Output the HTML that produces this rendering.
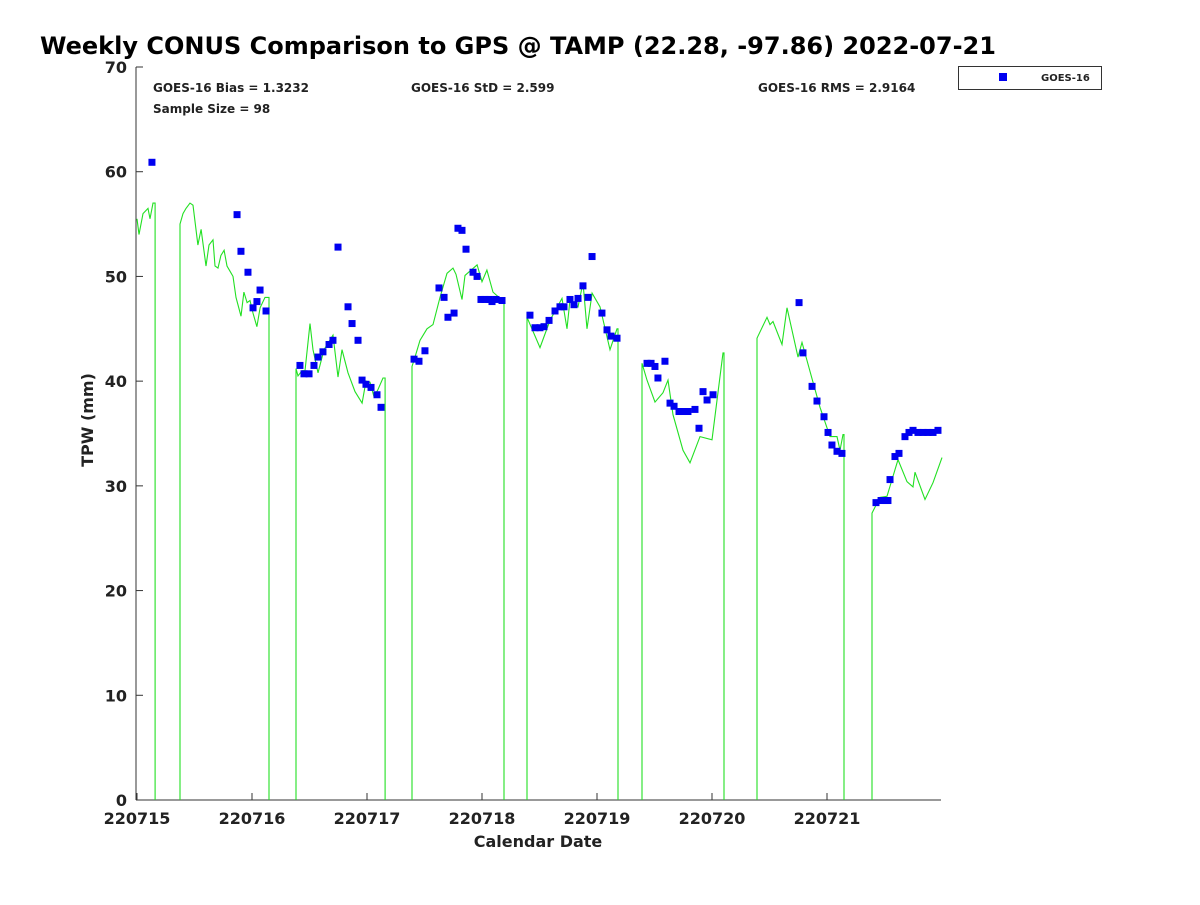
<!DOCTYPE html>
<html><head><meta charset="utf-8"><style>
body{margin:0;background:#fff;}
svg text{font-family:"DejaVu Sans","Liberation Sans",sans-serif;font-weight:bold;fill:#222;}
</style></head><body>
<svg id="chart" width="1200" height="900" xmlns="http://www.w3.org/2000/svg">
<rect width="1200" height="900" fill="#fff"/>
<text x="40" y="54" font-size="24" style="fill:#000">Weekly CONUS Comparison to GPS @ TAMP (22.28, -97.86) 2022-07-21</text>
<g id="axes"></g>
<g id="gpsline"></g>
<g id="points"></g>
<text x="153" y="92" font-size="12">GOES-16 Bias = 1.3232</text>
<text x="411" y="92" font-size="12">GOES-16 StD = 2.599</text>
<text x="758" y="92" font-size="12">GOES-16 RMS = 2.9164</text>
<text x="153" y="113" font-size="12">Sample Size = 98</text>
<text x="538" y="847" font-size="16" text-anchor="middle">Calendar Date</text>
<text transform="translate(93,420) rotate(-90)" font-size="16" text-anchor="middle">TPW (mm)</text>
<g>
<rect x="958.5" y="66.5" width="143" height="23" fill="#fff" stroke="#333" stroke-width="1"/>
<rect x="999" y="73" width="8" height="8" fill="#0000f0"/>
<text x="1041" y="81" font-size="10">GOES-16</text>
</g>
</svg>
<script>
const yTicks=[0,10,20,30,40,50,60,70];
const xTickLabels=["220715","220716","220717","220718","220719","220720","220721"];
const gpsTime=[0,.017,.052,.096,.113,.139,.157,.157,.374,.374,.4,.426,.461,.487,.53,.557,.6,.626,.661,.678,.704,.73,.757,.783,.809,.835,.861,.904,.93,.957,.983,1.009,1.043,1.07,1.113,1.139,1.148,1.148,1.383,1.383,1.4,1.435,1.461,1.504,1.53,1.574,1.626,1.704,1.748,1.783,1.835,1.896,1.957,1.991,2.026,2.061,2.096,2.139,2.157,2.157,2.391,2.391,2.417,2.461,2.522,2.574,2.635,2.696,2.748,2.774,2.826,2.852,2.957,3.0,3.043,3.096,3.157,3.183,3.191,3.191,3.391,3.391,3.504,3.591,3.696,3.739,3.765,3.835,3.878,3.913,3.957,4.026,4.113,4.174,4.183,4.183,4.391,4.391,4.435,4.504,4.574,4.617,4.661,4.748,4.809,4.896,5.0,5.096,5.104,5.104,5.391,5.391,5.478,5.504,5.53,5.609,5.652,5.748,5.783,5.878,5.939,6.026,6.087,6.113,6.139,6.148,6.148,6.391,6.391,6.461,6.522,6.617,6.696,6.748,6.765,6.852,6.922,7.0];
const gpsTpw=[55.5,54,56,56.5,55.5,57,57,0,0,55,56,56.5,57,56.8,53,54.5,51,53,53.5,51,50.8,52,52.5,51,50.5,50,48,46.2,48.5,47.5,47.7,46.5,45.2,47,48,48,48,0,0,41.2,40.5,41,41,45.5,43,40.8,43,44.4,40.4,43,40.8,39,37.9,40,39.9,38.5,39.2,40.3,40.3,0,0,41.4,42.3,43.9,45,45.4,48,50.3,50.8,50.2,47.8,50.1,51.1,49.5,50.6,48.5,47.9,47.6,47.6,0,0,46.1,43.2,45.8,47.9,45,47.8,47.1,49.4,45,48.4,47.1,43,45,45,0,0,41.7,40.1,38,38.9,40.1,36.8,33.4,32.2,34.7,34.4,42.7,42.7,0,0,44.1,46.1,45.4,45.7,43.5,47,42.3,43.7,39.9,37.5,34.7,34.7,33.4,34.9,34.9,0,0,27.4,28.9,29,32.5,30.4,29.9,31.3,28.7,30.3,32.7];
const goesTime=[.13,.87,.904,.965,1.009,1.043,1.07,1.122,1.417,1.452,1.496,1.539,1.574,1.617,1.67,1.704,1.748,1.835,1.87,1.922,1.957,1.991,2.035,2.087,2.122,2.409,2.452,2.504,2.626,2.67,2.704,2.757,2.791,2.826,2.861,2.922,2.957,2.991,3.026,3.061,3.087,3.122,3.174,3.417,3.461,3.504,3.539,3.583,3.635,3.678,3.713,3.765,3.8,3.835,3.878,3.922,3.957,4.043,4.087,4.122,4.174,4.435,4.47,4.504,4.53,4.591,4.635,4.67,4.713,4.748,4.791,4.852,4.887,4.922,4.957,5.009,5.757,5.791,5.87,5.913,5.974,6.009,6.043,6.087,6.13,6.426,6.47,6.513,6.53,6.548,6.591,6.626,6.678,6.713,6.748,6.791,6.835,6.878,6.922,6.965];
const goesTpw=[60.9,55.9,52.4,50.4,47,47.6,48.7,46.7,41.5,40.7,40.7,41.5,42.3,42.8,43.5,43.9,52.8,47.1,45.5,43.9,40.1,39.7,39.4,38.7,37.5,42.1,41.9,42.9,48.9,48,46.1,46.5,54.6,54.4,52.6,50.4,50,47.8,47.8,47.8,47.6,47.8,47.7,46.3,45.1,45.1,45.2,45.8,46.7,47.1,47.1,47.8,47.3,47.9,49.1,48,51.9,46.5,44.9,44.3,44.1,41.7,41.7,41.4,40.3,41.9,37.9,37.6,37.1,37.1,37.1,37.3,35.5,39,38.2,38.7,47.5,42.7,39.5,38.1,36.6,35.1,33.9,33.3,33.1,28.4,28.6,28.6,28.6,30.6,32.8,33.1,34.7,35.1,35.3,35.1,35.1,35.1,35.1,35.3];
const NS="http://www.w3.org/2000/svg";
const L=136,R=941,T=67,B=800;
function xs(d){return 137+d*115;}
function ys(v){return B-(v/70)*(B-T);}
function mk(t,a,p){const e=document.createElementNS(NS,t);for(const k in a)e.setAttribute(k,a[k]);p.appendChild(e);return e;}
const ax=document.getElementById('axes');
const yl=mk('line',{x1:L,y1:T,x2:L,y2:B,stroke:'#333','stroke-width':1},ax);


const xl=mk('line',{x1:L,y1:B,x2:R,y2:B,stroke:'#333','stroke-width':1},ax);


yTicks.forEach(v=>{
  const y=ys(v);
  mk('line',{x1:L,y1:y,x2:L+7,y2:y,stroke:'#333'},ax);
  const t=mk('text',{x:127,y:y+6,'font-size':16,'text-anchor':'end'},ax);
  t.textContent=v;
  
  
});
xTickLabels.forEach((s,i)=>{
  const x=xs(i);
  mk('line',{x1:x,y1:B,x2:x,y2:B-7,stroke:'#333'},ax);
  const t=mk('text',{x:x,y:824,'font-size':16,'text-anchor':'middle'},ax);
  t.textContent=s;
  
  
});
const g=document.getElementById('gpsline');
let segs=[],cur=[];
gpsTime.forEach((d,i)=>{
  const v=gpsTpw[i];
  if(v===0&&i>0&&gpsTpw[i-1]===0){segs.push(cur);cur=[];}
  cur.push(xs(d).toFixed(1)+','+ys(v).toFixed(1));
});
segs.push(cur);
segs.forEach(s=>{
  const pl=mk('polyline',{points:s.join(' '),fill:'none',stroke:'#22e022','stroke-width':1.1},g);
  
  
});
const pg=document.getElementById('points');
goesTime.forEach((d,i)=>{
  const r=mk('rect',{x:xs(d)-3.5,y:ys(goesTpw[i])-3.5,width:7,height:7,fill:'#0000f0'},pg);
  
  
});
</script>
</body></html>
